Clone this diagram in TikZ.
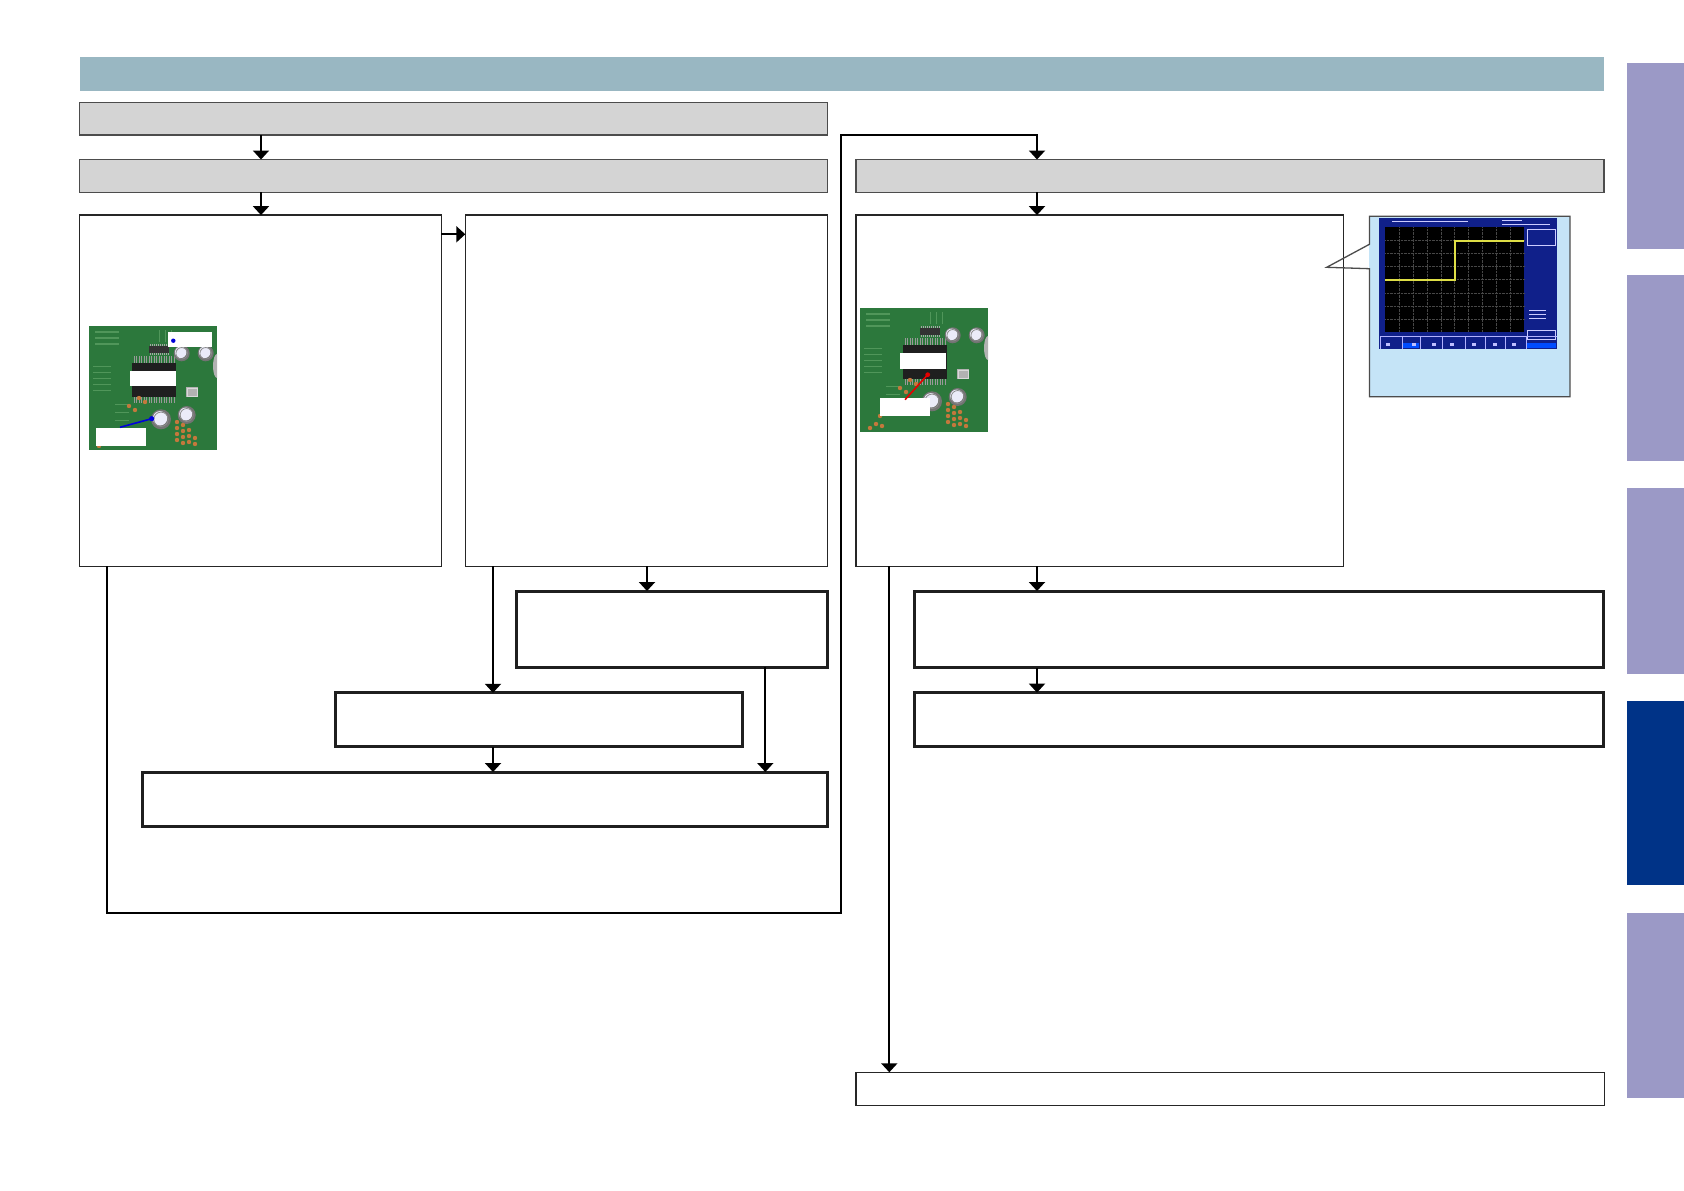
\documentclass[tikz,border=0pt]{standalone}
\usetikzlibrary{arrows.meta}
\definecolor{titlebg}{RGB}{153,183,194}
\definecolor{graybg}{RGB}{212,212,212}
\definecolor{tablight}{RGB}{155,153,198}
\definecolor{tabdark}{RGB}{0,51,135}
\definecolor{callbg}{RGB}{197,228,247}
\definecolor{scopeblue}{RGB}{16,32,138}
\definecolor{trace}{RGB}{222,222,70}
\definecolor{pcbgreen}{RGB}{44,120,60}
\definecolor{pcblight}{RGB}{80,150,90}
\definecolor{padorange}{RGB}{196,120,60}
\newcommand\bx[6]{\node[#2,anchor=north west,minimum width={(#5-#3)*1pt},minimum height={(#6-#4)*1pt}] (#1) at (#3,#4) {};}
\newcommand\pcbimg{%
  \fill[pcbgreen] (0,0) rectangle (128,124);
  % silkscreen hints
  \foreach \yy in {6,12,18}{\draw[pcblight,line width=1.2pt] (6,\yy) -- (30,\yy);}
  \foreach \yy in {40,46,52,58,64}{\draw[pcblight,line width=1pt] (4,\yy) -- (22,\yy);}
  \foreach \yy in {78,86,94,102}{\draw[pcblight,line width=1pt] (26,\yy) -- (40,\yy);}
  \foreach \xx in {70,76,82}{\draw[pcblight,line width=1pt] (\xx,4) -- (\xx,16);}
  % small IC
  \fill[black!80] (60,20) rectangle (80,27);
  \foreach \xx in {61,63,...,79}{\draw[gray!70,line width=0.6pt] (\xx,18) -- (\xx,20) (\xx,27) -- (\xx,29);}
  % main chip
  \foreach \xx in {45,47.5,...,85}{\draw[gray!80,line width=0.9pt] (\xx,30) -- (\xx,37) (\xx,71) -- (\xx,77);}
  \fill[black!88] (43,37) rectangle (87,71);
  % crystal
  \fill[gray!60] (97,61) rectangle (109,71);
  \draw[gray!30,line width=0.6pt] (98,62) rectangle (108,70);
  % capacitors
  \foreach \cx/\cy/\r in {92.7/27.3/8,116.7/27.3/8,72/93.3/10,97.7/89/9}{
    \fill[black!55] (\cx,\cy) circle (\r);
    \fill[gray!45!blue!10!white] (\cx-1,\cy-1) circle (\r*0.72);
    \draw[black!45,line width=0.8pt] (\cx,\cy) circle (\r*0.72);}
  \fill[gray!60] (128,52) arc (90:270:4 and 12) -- cycle;
  % pads
  \foreach \px/\py in {88/96,88/102,88/108,88/114,94/99,94/105,94/111,94/117,100/104,100/110,100/116,106/112,106/118,16/116,22/118,10/120,40/80,46/84,56/76,50/72,20/108}{
    \fill[padorange] (\px,\py) circle (2.2);}
}
\begin{document}
\begin{tikzpicture}[x=1pt,y=-1pt,
  thinbox/.style={draw=black!85,line width=1.3pt,fill=white,inner sep=0pt,outer sep=0pt},
  thickbox/.style={draw=black!88,line width=3pt,fill=white,inner sep=0pt,outer sep=0pt},
  graybox/.style={draw=black!70,line width=1.3pt,fill=graybg,inner sep=0pt,outer sep=0pt},
  titlebox/.style={fill=titlebg,inner sep=0pt,outer sep=0pt},
  tablt/.style={fill=tablight,inner sep=0pt,outer sep=0pt},
  tabdk/.style={fill=tabdark,inner sep=0pt,outer sep=0pt},
  labelbox/.style={fill=white,inner sep=0pt,outer sep=0pt},
  conn/.style={line width=2pt,draw=black},
  arr/.style={conn,-{Triangle[length=9pt,width=16pt]}},
]
\useasboundingbox (0,0) rectangle (1684,1191);
\fill[white] (0,0) rectangle (1684,1191);

% title bar and side tabs
\bx{title}{titlebox}{79.5}{56.6}{1604}{91.1}
\bx{tab1}{tablt}{1627}{63.1}{1684}{249}
\bx{tab2}{tablt}{1627}{274.7}{1684}{461}
\bx{tab3}{tablt}{1627}{487.9}{1684}{673.9}
\bx{tab4}{tabdk}{1627}{700.8}{1684}{885.2}
\bx{tab5}{tablt}{1627}{913}{1684}{1098.4}

% gray header boxes
\bx{g1}{graybox}{79.5}{102.6}{827.6}{135.1}
\bx{g2}{graybox}{79.5}{159.5}{827.6}{192.2}
\bx{g3}{graybox}{856}{159.5}{1604}{192.2}

% large content boxes
\bx{a}{thinbox}{79.5}{215.1}{441.4}{566.3}
\bx{b}{thinbox}{465.3}{215.1}{827.6}{566.3}
\bx{d}{thinbox}{856}{215.1}{1343.6}{566.3}

% thick boxes
\bx{c}{thickbox}{516.8}{591}{827.3}{667}
\bx{e}{thickbox}{335}{692.8}{742}{746.7}
\bx{f}{thickbox}{142.9}{772}{827.3}{826.4}
\bx{k}{thickbox}{914}{591}{1603.5}{667.8}
\bx{h}{thickbox}{914}{692.6}{1603.5}{746.7}
\bx{i}{thinbox}{856}{1072.3}{1604.6}{1105.3}

% scope callout
\fill[callbg] (1369.4,216.2) rectangle (1570,396.8);
\draw[black!70,line width=1.3pt] (1369.4,244.3) -- (1369.4,216.2) -- (1570,216.2) -- (1570,396.8) -- (1369.4,396.8) -- (1369.4,268.7) -- (1326.7,267.3) -- cycle;
\fill[scopeblue] (1379.3,218) rectangle (1557.3,348.7);
\fill[black] (1385.3,227.3) rectangle (1524,332);
\foreach \gx in {1,...,9}{\draw[black!72,line width=0.4pt,densely dotted] ({1385.3+\gx*13.87},227.3) -- ({1385.3+\gx*13.87},332);}
\foreach \gy in {1,...,7}{\draw[black!72,line width=0.4pt,densely dotted] (1385.3,{227.3+\gy*13.09}) -- (1524,{227.3+\gy*13.09});}
\draw[trace,line width=1.8pt] (1385.3,280) -- (1454.7,280) -- (1454.7,240.7) -- (1524,240.7);
% scope status bars
\draw[white!80!blue,line width=0.6pt] (1392,221.5) -- (1468,221.5);
\draw[white!80!blue,line width=0.6pt] (1502,220.5) -- (1522,220.5) (1502,224.5) -- (1550,224.5);
\draw[white!80!blue,line width=0.6pt] (1527,229) rectangle (1555,245);
\draw[white!80!blue,line width=0.5pt] (1527,330) rectangle (1555,339);
\foreach \mx in {1380,1402,1420,1442,1465,1485,1505,1526}{\draw[white!70!blue,line width=0.5pt] (\mx,336) -- (\mx,348.7);}
\draw[white!70!blue,line width=0.5pt] (1380,336) -- (1557.3,336);
\fill[blue!70!cyan] (1403,343) rectangle (1419,347.5);
\fill[blue!70!cyan] (1527,343) rectangle (1556,347.5);
\foreach \sx in {1386,1412,1432,1450,1472,1493,1512}{\fill[white!75!blue] (\sx,342.5) rectangle ++(4,3);}
\foreach \sy in {310,314,318}{\draw[white!80!blue,line width=0.5pt] (1529,\sy) -- (1546,\sy);}

% PCB photo 1
\begin{scope}[shift={(89,326)}]
\pcbimg
\end{scope}
\bx{p1l1}{labelbox}{168.3}{332}{212.3}{347.3}
\bx{p1l2}{labelbox}{130}{370.7}{175.7}{385.7}
\bx{p1l3}{labelbox}{96}{427.7}{145.7}{445.7}
\fill[blue!85!black] (173.3,340.7) circle (2.2);
\coordinate (p1tip) at (151.7,418.7);
\draw[blue!85!black,line width=1.6pt] (120,427.3) -- (p1tip);
\fill[blue!85!black] (p1tip) circle (2.6);

% PCB photo 2
\begin{scope}[shift={(860,308)}]
\pcbimg
\end{scope}
\bx{p2l1}{labelbox}{900}{353}{945.7}{368.7}
\bx{p2l2}{labelbox}{880}{398}{930}{416.3}
\coordinate (p2tip) at (927.7,374.7);
\draw[red!90!black,line width=1.6pt] (905,399.7) -- (p2tip);
\fill[red!90!black] (p2tip) circle (2.4);

% connector x/y positions
\coordinate (x1) at (261,0);
\coordinate (xbc) at (647,0);
\coordinate (xbe) at (493,0);
\coordinate (xcf) at (765.3,0);
\coordinate (xr) at (1037,0);
\coordinate (xdi) at (889.3,0);
\coordinate (xal) at (106.9,0);
\coordinate (xloop) at (841,0);
\coordinate (yab) at (0,234.3);
\coordinate (yloop) at (0,913.3);

\draw[arr] (x1 |- g1.south) -- (x1 |- g2.north);
\draw[arr] (x1 |- g2.south) -- (x1 |- a.north);
\draw[arr] (a.east |- yab) -- (b.west |- yab);
\draw[arr] (xbc |- b.south) -- (xbc |- c.north);
\draw[arr] (xbe |- b.south) -- (xbe |- e.north);
\draw[arr] (xcf |- c.south) -- (xcf |- f.north);
\draw[arr] (xbe |- e.south) -- (xbe |- f.north);
\draw[arr] (xal |- a.south) -- (xal |- yloop) -- (xloop |- yloop) -- (xloop |- g1.south) -- (xr |- g1.south) -- (xr |- g3.north);
\draw[arr] (xr |- g3.south) -- (xr |- d.north);
\draw[arr] (xr |- d.south) -- (xr |- k.north);
\draw[arr] (xr |- k.south) -- (xr |- h.north);
\draw[arr] (xdi |- d.south) -- (xdi |- i.north);
\end{tikzpicture}
\end{document}
